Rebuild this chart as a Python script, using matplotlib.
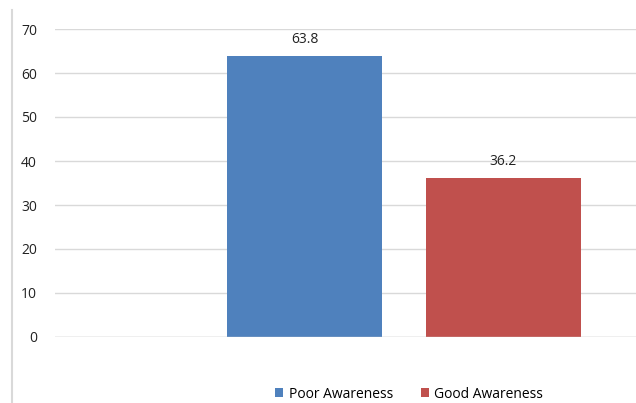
import matplotlib.pyplot as plt
from matplotlib.lines import Line2D

labels = ["Poor Awareness", "Good Awareness"]
values = [63.8, 36.2]
colors = ["#4F81BD", "#C0504D"]
yticks = [0, 10, 20, 30, 40, 50, 60, 70]

plt.rcParams["font.family"] = ["Open Sans", "DejaVu Sans"]

fig = plt.figure(figsize=(6.36, 4.03), dpi=100)
ax = fig.add_axes([55 / 636, 66 / 403, 1 - 55 / 636, 308 / 403])

positions = [1, 2]
bars = ax.bar(positions, values, width=0.78, color=colors, label=labels, zorder=3)
for b, v in zip(bars, values):
    ax.text(b.get_x() + b.get_width() / 2, v + 2.0, f"{v}", ha="center", va="bottom",
            fontsize=10, color="#222222")

ax.set_xlim(-0.254, 2.666)
ax.set_ylim(0, 70)
ax.set_yticks(yticks)
ax.set_xticks([])
ax.tick_params(axis="y", length=0, pad=13, labelsize=10, labelcolor="#222222")
ax.yaxis.grid(True, color="#d9d9d9", linewidth=1, zorder=0)
for s in ax.spines.values():
    s.set_visible(False)
ax.axhline(0, color="#d0d0d0", linewidth=1, zorder=4)

fig.legend(handles=bars, labels=labels, loc="center", bbox_to_anchor=(409 / 636, 1 - 394 / 403),
           ncol=2, frameon=False, fontsize=10, handlelength=0.6, handleheight=0.6,
           handletextpad=0.4, columnspacing=2.0)

# left border of the chart frame
fig.add_artist(Line2D([12 / 636, 12 / 636], [0, 1 - 10 / 403], color="#d9d9d9", linewidth=1.5))

fig.savefig("out.png", dpi=100)
